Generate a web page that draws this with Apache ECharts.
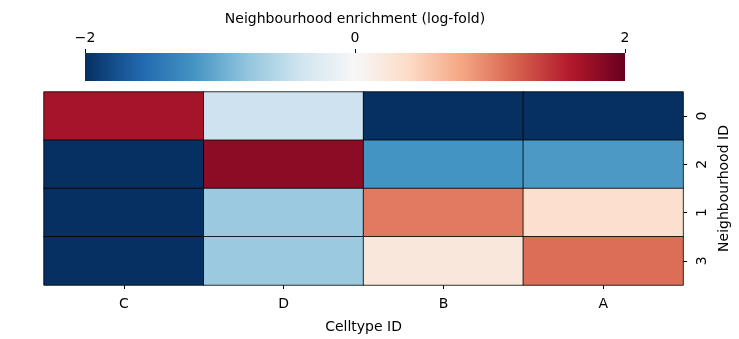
<!DOCTYPE html>
<html><head><meta charset="utf-8">
<script src="https://cdn.jsdelivr.net/npm/echarts@6/dist/echarts.min.js"></script>
<style>html,body{margin:0;padding:0;background:#fff}#c{width:739px;height:339px}</style>
</head><body><div id="c"></div>
<script>
const celltypes = ['C','D','B','A'];
const neighbourhoods = ['0','2','1','3'];
const row0 = [1.67, -0.42, -2.0, -2.0];
const row2 = [-2.0, 1.8, -1.2, -1.15];
const row1 = [-2.0, -0.75, 1.05, 0.35];
const row3 = [-2.0, -0.75, 0.23, 1.12];
const rows = [row0, row2, row1, row3];
const cbTicks = [-2, 0, 2];
const rdbu = ['#053061','#2166ac','#4393c3','#92c5de','#d1e5f0','#f7f7f7','#fddbc7','#f4a582','#d6604d','#b2182b','#67001f'];

const data = [];
rows.forEach((r, yi) => r.forEach((v, xi) => data.push([xi, yi, v])));
const font = 'DejaVu Sans';
const fmt = v => v < 0 ? '\u2212' + Math.abs(v) : String(v);

const chart = echarts.init(document.getElementById('c'), null, {renderer:'canvas'});
chart.setOption({
  animation: false,
  textStyle: {fontFamily: font},
  grid: [
    {left: 44, top: 92, width: 643, height: 194},
    {left: 85, top: 53, width: 540, height: 28}
  ],
  xAxis: [
    {type: 'category', data: celltypes, gridIndex: 0, position: 'bottom',
     axisLine: {show: false, onZero: false}, splitLine: {show: false},
     axisTick: {show: true, alignWithLabel: true, length: 4, lineStyle: {color: '#000'}},
     axisLabel: {color: '#000', fontSize: 14, fontFamily: font, margin: 12},
     name: 'Celltype ID', nameLocation: 'middle', nameGap: 35,
     nameTextStyle: {color: '#000', fontSize: 14, fontFamily: font}},
    {type: 'value', gridIndex: 1, min: cbTicks[0], max: cbTicks[cbTicks.length - 1], interval: 2, position: 'top',
     axisLine: {show: false, onZero: false}, splitLine: {show: false},
     axisTick: {show: true, inside: false, length: 4, lineStyle: {color: '#000'}},
     axisLabel: {color: '#000', fontSize: 14, fontFamily: font, margin: 8, formatter: fmt},
     name: 'Neighbourhood enrichment (log-fold)', nameLocation: 'middle', nameGap: 27,
     nameTextStyle: {color: '#000', fontSize: 14, fontFamily: font}}
  ],
  yAxis: [
    {type: 'category', data: neighbourhoods, gridIndex: 0, position: 'right', inverse: true,
     axisLine: {show: false, onZero: false}, splitLine: {show: false},
     axisTick: {show: true, alignWithLabel: true, length: 4, lineStyle: {color: '#000'}},
     axisLabel: {color: '#000', fontSize: 14, fontFamily: font, rotate: 90, margin: 12},
     name: 'Neighbourhood ID', nameLocation: 'middle', nameGap: 25, nameRotate: 90,
     nameTextStyle: {color: '#000', fontSize: 14, fontFamily: font}},
    {type: 'value', gridIndex: 1, show: false, min: 0, max: 1}
  ],
  visualMap: {show: false, type: 'continuous', min: -2, max: 2, seriesIndex: 0, inRange: {color: rdbu}},
  graphic: [{
    type: 'rect', shape: {x: 85, y: 53, width: 540, height: 28}, z: -1,
    style: {fill: new echarts.graphic.LinearGradient(0, 0, 1, 0,
      rdbu.map((c, i) => ({offset: i / (rdbu.length - 1), color: c})))}
  }],
  series: [{
    type: 'heatmap', xAxisIndex: 0, yAxisIndex: 0, data: data,
    itemStyle: {borderColor: '#000', borderWidth: 0.8},
    emphasis: {disabled: true}
  }]
});
</script></body></html>
